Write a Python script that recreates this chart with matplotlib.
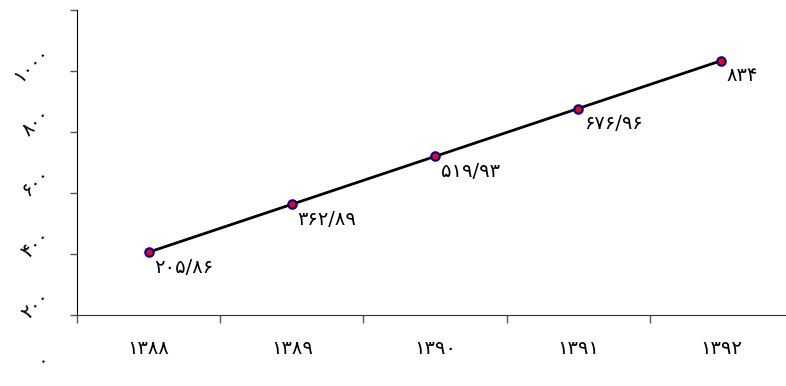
import matplotlib.pyplot as plt
import matplotlib.transforms as mtransforms

# سال‌ها و مقادیر
years = ['۱۳۸۸', '۱۳۸۹', '۱۳۹۰', '۱۳۹۱', '۱۳۹۲']
values = [205.86, 362.89, 519.93, 676.96, 834]
value_labels = ['۲۰۵/۸۶', '۳۶۲/۸۹', '۵۱۹/۹۳', '۶۷۶/۹۶', '۸۳۴']
y_ticks = [0, 200, 400, 600, 800, 1000]
y_tick_labels = ['۰', '۲۰۰', '۴۰۰', '۶۰۰', '۸۰۰', '۱۰۰۰']

plt.rcParams['font.family'] = ['DejaVu Sans']

fig = plt.figure(figsize=(7.86, 3.86), dpi=100)
ax = fig.add_axes([77 / 786, 71 / 386, 716 / 786, 305 / 386])

x = list(range(len(years)))
ax.plot(x, values, color='black', linewidth=2, marker='o', markersize=6,
        markerfacecolor='red', markeredgecolor='#0000a0', markeredgewidth=1.6,
        zorder=3)

for xi, v, lab in zip(x, values, value_labels):
    ax.annotate(lab, (xi, v), xytext=(4, -4), textcoords='offset points',
                ha='left', va='top', fontsize=14)

ax.set_xlim(-0.5, len(years) - 0.5)
ax.set_ylim(0, 1000)

# تیک‌های محور افقی بین دسته‌ها
ax.set_xticks([i - 0.5 for i in range(len(years) + 1)])
ax.set_xticks(x, minor=True)
ax.set_xticklabels([''] * (len(years) + 1))
ax.set_xticklabels(years, minor=True, fontsize=14)
ax.tick_params(axis='x', which='major', direction='out', length=6, width=1,
               color='#555555')
ax.tick_params(axis='x', which='minor', length=0, pad=17)

ax.set_yticks(y_ticks)
ax.set_yticklabels(y_tick_labels, rotation=45, fontsize=14)
ax.tick_params(axis='y', direction='out', length=5, width=1, pad=12,
               color='#555555')

shift = mtransforms.ScaledTranslation(0, -0.4, fig.dpi_scale_trans)
for lab in ax.get_yticklabels():
    lab.set_transform(lab.get_transform() + shift)

for side in ['top', 'right']:
    ax.spines[side].set_visible(False)
ax.spines['left'].set_color('black')
ax.spines['bottom'].set_color('#333333')

fig.savefig('out.png', dpi=100)
